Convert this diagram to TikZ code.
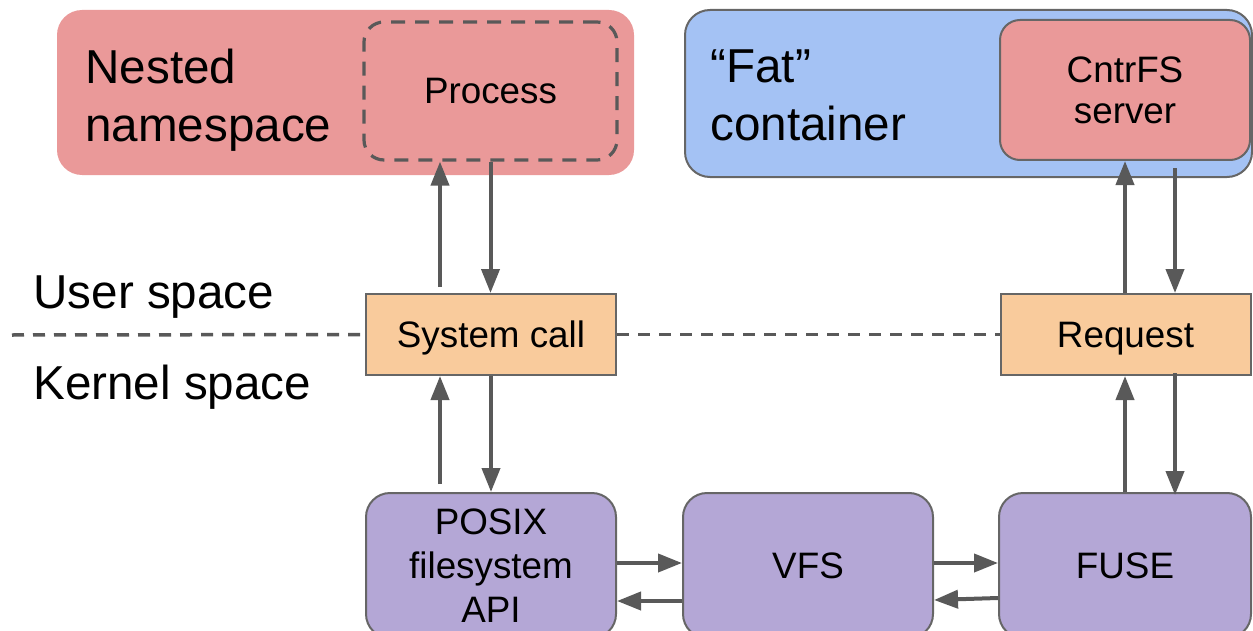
\documentclass[tikz,border=0pt]{standalone}
\usepackage{fontspec}
\setmainfont{Liberation Sans}
\usetikzlibrary{arrows.meta,calc}

\definecolor{nsred}{HTML}{EA9999}
\definecolor{fatblue}{HTML}{A4C2F4}
\definecolor{callorange}{HTML}{F9CB9C}
\definecolor{fspurple}{HTML}{B4A7D6}
\definecolor{edgegray}{HTML}{666666}
\definecolor{arrowgray}{HTML}{595959}

\newcommand\diagbig{\fontsize{23.8}{29}\selectfont}
\newcommand\diagsmall{\fontsize{18.4}{22}\selectfont}

\tikzset{
  solidbox/.style={draw=edgegray, line width=1pt, inner sep=0pt, font=\diagsmall},
  callbox/.style={solidbox, fill=callorange, minimum width=125pt,
                  minimum height=40.5pt, text depth=0pt},
  fsbox/.style={solidbox, fill=fspurple, rounded corners=12pt,
                minimum height=72.5pt, align=center},
  biglabel/.style={inner sep=0pt, font=\diagbig, align=left},
  arr/.style={draw=arrowgray, line width=2pt,
              -{Triangle[length=12pt,width=9pt]}},
  sepline/.style={draw=arrowgray, line width=1.75pt,
                  dash pattern=on 6pt off 4.5pt},
}

\begin{document}
\begin{tikzpicture}[x=0.5pt,y=-0.5pt]
  \useasboundingbox (0,0) rectangle (1253,631);

  % nested namespace with the traced process
  \node[fill=nsred, rounded corners=12.5pt, minimum width=288.5pt,
        minimum height=82.5pt, inner sep=0pt] (nested) at (345.5,92.5) {};
  \node[biglabel, anchor=north west] (nestedlbl) at (85,49) {Nested\\namespace};
  \node[draw=arrowgray, line width=1.6pt, dash pattern=on 7pt off 5pt,
        rounded corners=10pt, minimum width=126.5pt, minimum height=69pt,
        inner sep=0pt, font=\diagsmall] (proc) at (490.5,91) {Process};

  % fat container with the CntrFS server
  \node[fill=fatblue, draw=edgegray, line width=1pt, rounded corners=12.5pt,
        minimum width=283.5pt, minimum height=83.5pt, inner sep=0pt]
        (fat) at (968.5,93.5) {};
  \node[biglabel, anchor=north west] (fatlbl) at (710,49) {“Fat”\\container};
  \node[solidbox, fill=nsred, rounded corners=10pt, minimum width=125pt,
        minimum height=70pt, align=center, font=\fontsize{18.4}{20.5}\selectfont]
        (srv) at (1125,90) {CntrFS\\server};

  % user / kernel boundary
  \node[biglabel, anchor=base west] (user) at (33,308) {User space};
  \node[biglabel, anchor=base west] (kern) at (33,399) {Kernel space};
  \node[callbox] (sys) at (491,334.5) {System call};
  \node[callbox] (req) at (1125.5,334.5) {Request};
  \coordinate (sepstart) at (12,335);
  \draw[sepline] (sepstart) -- (sys.west);
  \draw[sepline] (sys.east) -- (req.west);

  % kernel filesystem layers
  \node[fsbox, minimum width=125pt] (posix) at (491,565.5) {POSIX\\filesystem\\API};
  \node[fsbox, minimum width=125pt] (vfs) at (808,565.5) {VFS};
  \node[fsbox, minimum width=126pt] (fuse) at (1125,565.5) {FUSE};

  % left column
  \draw[arr] ($(sys.north)+(-51,-6)$) -- ($(proc.south)+(-50.5,0)$);
  \draw[arr] (proc.south) -- (proc.south |- sys.north);
  \draw[arr] ($(posix.north)+(-51,-8)$) -- ($(sys.south)+(-51,0)$);
  \draw[arr] (sys.south) -- (posix.north);

  % right column
  \draw[arr] ($(req.north)+(-0.5,0)$) -- (srv.south);
  \draw[arr] ($(srv.south)+(50,7)$) -- ($(req.north)+(49.5,0)$);
  \draw[arr] (fuse.north) -- (fuse.north |- req.south);
  \draw[arr] ($(req.south)+(49.5,-3)$) -- ($(fuse.north)+(50,3)$);

  % between the layers
  \draw[arr] ($(posix.east)+(0,-2.5)$) -- ($(vfs.west)+(0,-2.5)$);
  \draw[arr] ($(vfs.west)+(0,35.5)$) -- ($(posix.east)+(0,35.5)$);
  \draw[arr] ($(vfs.east)+(0,-2.5)$) -- ($(fuse.west)+(0,-2.5)$);
  \draw[arr] ($(fuse.west)+(0,32.5)$) -- ($(vfs.east)+(0,34.5)$);
\end{tikzpicture}
\end{document}
